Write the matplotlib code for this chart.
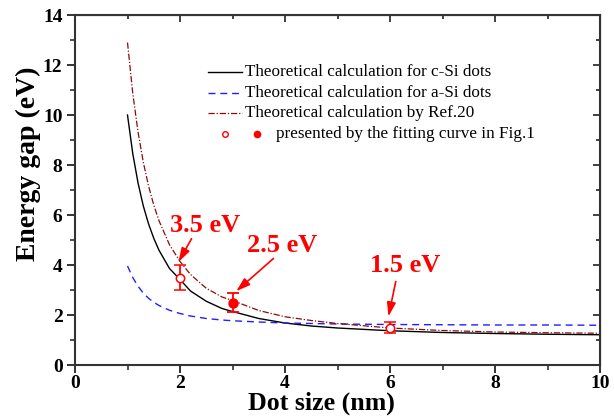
import numpy as np
import matplotlib
matplotlib.use('Agg')
import matplotlib.pyplot as plt

plt.rcParams['font.family'] = ['Liberation Serif', 'DejaVu Serif']

# dot size (nm) where the curves were read
d = [1.0, 1.1, 1.2, 1.3, 1.4, 1.5, 1.6, 1.8, 2.0, 2.2, 2.5, 2.8, 3.0,
     3.5, 4.0, 4.5, 5.0, 6.0, 7.0, 8.0, 9.0, 10.0]
# theoretical c-Si
e_csi = [10.0, 8.46, 7.29, 6.37, 5.65, 5.07, 4.59, 3.86, 3.42, 2.96, 2.55,
         2.26, 2.14, 1.86, 1.68, 1.56, 1.48, 1.37, 1.30, 1.26, 1.23, 1.21]
# theoretical a-Si
e_asi = [3.96, 3.50, 3.15, 2.88, 2.67, 2.51, 2.38, 2.19, 2.06, 1.96, 1.86,
         1.80, 1.77, 1.72, 1.68, 1.66, 1.64, 1.62, 1.61, 1.60, 1.60, 1.59]
# Ref.20
e_ref = [12.9, 10.87, 9.33, 8.12, 7.17, 6.40, 5.77, 4.81, 4.14, 3.62, 3.07,
         2.72, 2.58, 2.18, 1.93, 1.78, 1.66, 1.48, 1.38, 1.32, 1.29, 1.27]

# fitted points
pt_open_x = [2.0, 6.0]
pt_open_y = [3.5, 1.5]
pt_open_err = [0.5, 0.22]
pt_fill_x = [3.0]
pt_fill_y = [2.5]
pt_fill_err = [0.38]

labels = ['3.5 eV', '2.5 eV', '1.5 eV']
lab_xy = [(2.48, 5.6), (3.94, 4.78), (6.29, 3.97)]
arr_from = [(2.22, 5.05), (3.78, 4.26), (6.11, 3.34)]
arr_to = [(1.97, 4.12), (3.07, 2.95), (5.97, 1.94)]

leg_text = ['Theoretical calculation for c-Si dots',
            'Theoretical calculation for a-Si dots',
            'Theoretical calculation by Ref.20',
            'presented by the fitting curve in Fig.1']

fig = plt.figure(figsize=(6.14, 4.16), dpi=100)
ax = fig.add_axes([75/614, 51/416, 525/614, 350/416])

sty = [dict(color='black', lw=1.0),
       dict(color='#1f1fff', lw=1.0, ls=(0, (5, 3.5))),
       dict(color='#8b0a0a', lw=0.9, ls=(0, (5, 1.5, 1, 1.5)))]
for yy, s in zip([e_csi, e_asi, e_ref], sty):
    ax.plot(d, yy, **s)

ax.errorbar(pt_open_x, pt_open_y, yerr=pt_open_err, fmt='o', color='red',
            mfc='white', mec='red', ms=6, mew=1.1, elinewidth=1.3,
            capsize=4, capthick=1.3, zorder=5)
ax.errorbar(pt_fill_x, pt_fill_y, yerr=pt_fill_err, fmt='o', color='red',
            ms=6.5, elinewidth=1.3, capsize=4, capthick=1.3, zorder=5)

for t, xy, a0, a1 in zip(labels, lab_xy, arr_from, arr_to):
    ax.text(xy[0], xy[1], t, color='red', fontsize=19, fontweight='bold',
            ha='center', va='center')
    ax.annotate('', xy=a1, xytext=a0,
                arrowprops=dict(arrowstyle='-|>,head_length=0.7,head_width=0.22',
                                color='red', lw=1.2, mutation_scale=12,
                                shrinkA=0, shrinkB=0))

# legend drawn by hand (rows in axes fraction)
rows = [0.837, 0.778, 0.719, 0.660]
for r, s, t in zip(rows[:3], sty, leg_text[:3]):
    ax.plot([0.2533, 0.318], [r, r], transform=ax.transAxes, **s)
    ax.text(0.324, r, t, transform=ax.transAxes, fontsize=12.3,
            va='center', ha='left')
ax.plot([0.2857], [rows[3]], 'o', ms=4, mfc='white', mec='red',
        transform=ax.transAxes)
ax.plot([0.3467], [rows[3]], 'o', ms=4.5, color='red', transform=ax.transAxes)
ax.text(0.383, rows[3], leg_text[3], transform=ax.transAxes, fontsize=12.3,
        va='center', ha='left')

ax.set_xlim(0, 10)
ax.set_ylim(0, 14)
ax.set_xticks(np.arange(0, 11, 2))
ax.set_xticks(np.arange(1, 10, 2), minor=True)
ax.set_yticks(np.arange(0, 15, 2))
ax.set_yticks(np.arange(1, 14, 2), minor=True)
for s in ax.spines.values():
    s.set_linewidth(1.5)
    s.set_color('#333333')
ax.tick_params(which='major', direction='out', length=6, width=1.4,
               color='#333333', labelsize=14, pad=3)
ax.tick_params(axis='x', which='major', pad=1.5)
ax.tick_params(which='minor', direction='out', length=3.6, width=1.2,
               color='#333333')
for lab in ax.get_xticklabels() + ax.get_yticklabels():
    lab.set_fontweight('bold')

top = ax.secondary_xaxis('top')
top.set_xticks(np.arange(0, 11, 2))
top.set_xticks(np.arange(1, 10, 2), minor=True)
top.tick_params(which='both', direction='in', labeltop=False, width=1.3,
                color='#333333')
top.tick_params(which='major', length=5)
top.tick_params(which='minor', length=3)
right = ax.secondary_yaxis('right')
right.set_yticks(np.arange(0, 15, 2))
right.set_yticks(np.arange(1, 14, 2), minor=True)
right.tick_params(which='both', direction='in', labelright=False, width=1.3,
                  color='#333333')
right.tick_params(which='major', length=5)
right.tick_params(which='minor', length=3)

ax.set_xlabel('Dot size (nm)', fontsize=18.6, fontweight='bold')
ax.set_ylabel('Energy gap (eV)', fontsize=20, fontweight='bold')
ax.xaxis.set_label_coords(0.47, -0.076)
ax.yaxis.set_label_coords(-0.064, 0.576)

fig.savefig('out.png', dpi=100)
